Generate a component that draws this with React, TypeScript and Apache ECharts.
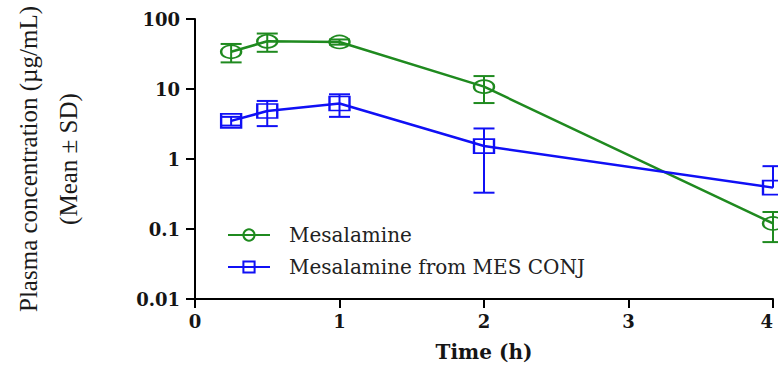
import React, { useEffect, useRef } from "react";
import * as echarts from "echarts";

const times = [0.25, 0.5, 1, 2, 4];
const mesMean = [34, 48, 47, 10.8, 0.12];
const mesSD = [10, 14, 4, 4.5, 0.055];
const conjMean = [3.5, 4.85, 6.2, 1.53, 0.39];
const conjSD = [0.5, 1.9, 2.2, 1.2, 0.4];
const yTickLabels = ["0.01", "0.1", "1", "10", "100"];
const seriesNames = ["Mesalamine", "Mesalamine from MES CONJ"];

const GREEN = "#1f8a1f";
const BLUE = "#1010f5";

function errorSeries(name: string, means: number[], sds: number[], color: string) {
  return {
    type: "custom",
    name,
    z: 1,
    data: times.map((t, i) => [t, means[i], sds[i]]),
    encode: { x: 0, y: 1 },
    renderItem: (params: any, api: any) => {
      const x = api.value(0);
      const m = api.value(1);
      const sd = api.value(2);
      const hi = m + sd;
      const lo = m - sd;
      const pTop = api.coord([x, hi]);
      const pMid = api.coord([x, m]);
      const pBot = lo > 0 ? api.coord([x, lo]) : pMid;
      const hw = 10.5;
      const style = { stroke: color, lineWidth: 2 };
      const children: any[] = [
        { type: "line", shape: { x1: pTop[0], y1: pTop[1], x2: pBot[0], y2: pBot[1] }, style },
        { type: "line", shape: { x1: pTop[0] - hw, y1: pTop[1], x2: pTop[0] + hw, y2: pTop[1] }, style },
      ];
      if (lo > 0) {
        children.push({ type: "line", shape: { x1: pBot[0] - hw, y1: pBot[1], x2: pBot[0] + hw, y2: pBot[1] }, style });
      }
      return { type: "group", children };
    },
  };
}

export default function App() {
  const ref = useRef<HTMLDivElement>(null);
  useEffect(() => {
    if (!ref.current) return;
    const chart = echarts.init(ref.current, null, { renderer: "svg" });
    const tickFont = { fontFamily: "DejaVu Serif", fontWeight: "bold", fontSize: 18, color: "#151515" };
    chart.setOption({
      animation: false,
      backgroundColor: "#fff",
      grid: { left: 191, right: 5, top: 19, bottom: 69, containLabel: false },
      legend: {
        orient: "vertical",
        left: 222,
        top: 220,
        itemWidth: 42,
        itemHeight: 14,
        itemGap: 12,
        data: seriesNames,
        textStyle: { fontFamily: "DejaVu Serif", fontSize: 20, color: "#222", padding: [0, 0, 0, 14] },
      },
      xAxis: {
        type: "value",
        min: 0,
        max: 4,
        interval: 1,
        name: "Time (h)",
        nameLocation: "middle",
        nameGap: 43,
        nameTextStyle: { fontFamily: "DejaVu Serif", fontWeight: "bold", fontSize: 20, color: "#151515" },
        splitLine: { show: false },
        axisLine: { lineStyle: { color: "#000", width: 2 } },
        axisTick: { length: 9, lineStyle: { color: "#000", width: 2 } },
        axisLabel: { ...tickFont, margin: 13, alignMaxLabel: "right" },
      },
      yAxis: {
        type: "log",
        logBase: 10,
        min: 0.01,
        max: 100,
        name: "Plasma concentration (µg/mL)\n(Mean ± SD)",
        nameLocation: "middle",
        nameRotate: 90,
        nameGap: 107,
        nameTextStyle: { fontFamily: "Liberation Serif", fontSize: 25, lineHeight: 40, color: "#1a1a1a" },
        splitLine: { show: false },
        axisLine: { show: true, lineStyle: { color: "#000", width: 2 } },
        axisTick: { length: 9, lineStyle: { color: "#000", width: 2 } },
        axisLabel: { ...tickFont, margin: 15, formatter: (_v: number, i: number) => yTickLabels[i] },
      },
      series: [
        errorSeries("mes-err", mesMean, mesSD, GREEN),
        errorSeries("conj-err", conjMean, conjSD, BLUE),
        {
          type: "line",
          name: seriesNames[0],
          z: 3,
          data: times.map((t, i) => [t, mesMean[i]]),
          symbol: "circle",
          symbolSize: [20, 13],
          lineStyle: { color: GREEN, width: 2.5 },
          itemStyle: { color: "rgba(255,255,255,0)", borderColor: GREEN, borderWidth: 2 },
        },
        {
          type: "line",
          name: seriesNames[1],
          z: 3,
          data: times.map((t, i) => [t, conjMean[i]]),
          symbol: "rect",
          symbolSize: [20, 14],
          lineStyle: { color: BLUE, width: 2.5 },
          itemStyle: { color: "rgba(255,255,255,0)", borderColor: BLUE, borderWidth: 2 },
        },
      ],
    });
    return () => chart.dispose();
  }, []);
  return <div ref={ref} style={{ position: "absolute", left: 0, top: 0, width: 778, height: 368 }} />;
}
